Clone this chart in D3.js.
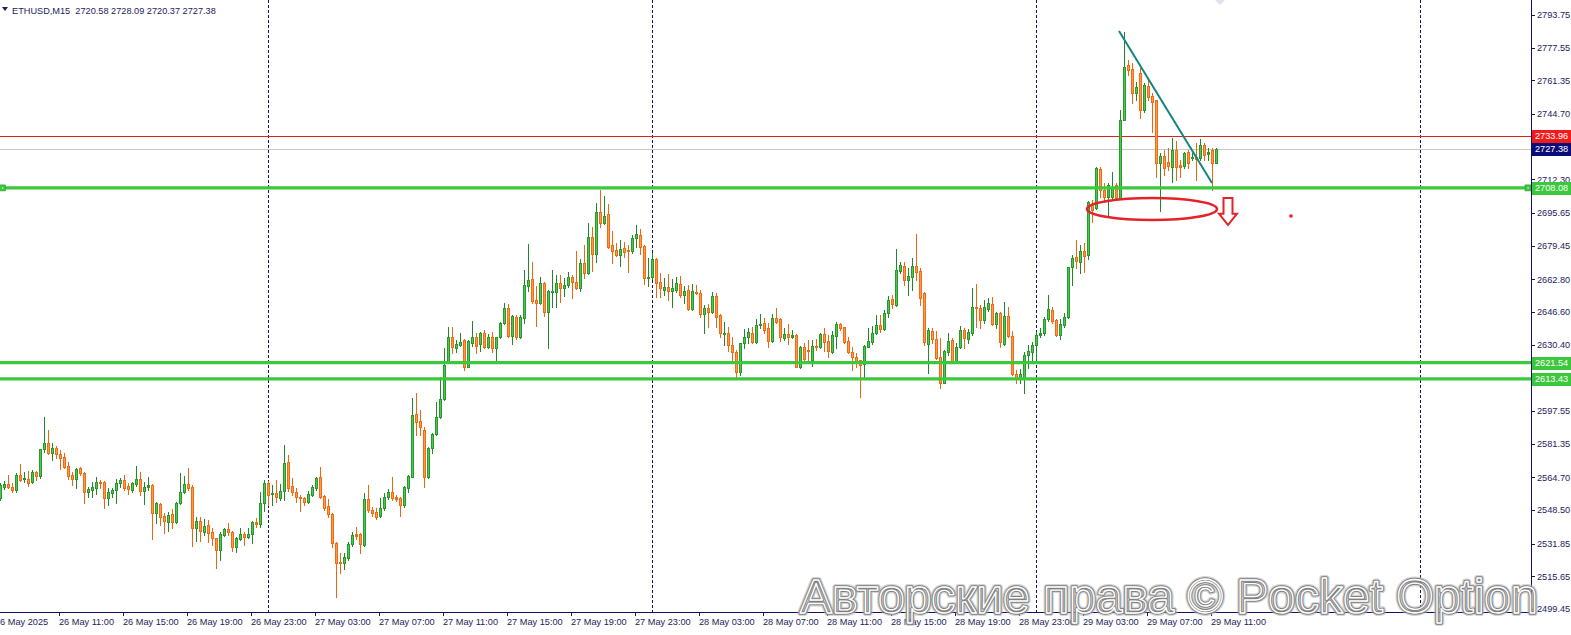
<!DOCTYPE html>
<html><head><meta charset="utf-8">
<script src="https://cdn.jsdelivr.net/npm/d3@7"></script>
<style>html,body{margin:0;padding:0;background:#fff;overflow:hidden}</style>
</head><body>
<svg id="c" width="1571" height="635" xmlns="http://www.w3.org/2000/svg"></svg>
<script>
const symbolTitle = "ETHUSD,M15";
const open = [
2554.4,2559.9,2561.4,2559.9,2558.4,2565.8,2563.9,2563.9,2562.4,2567.3,
2565.3,2578.7,2581.7,2576.7,2579.2,2576.2,2574.8,2570.3,2565.8,2563.9,
2569.3,2566.8,2557.4,2558.4,2559.4,2562.4,2562.4,2554.4,2556.9,2558.4,
2561.9,2563.4,2560.4,2558.4,2561.4,2563.9,2557.9,2559.9,2560.9,2547.0,
2551.5,2545.5,2542.6,2546.5,2542.6,2552.0,2557.4,2561.4,2559.9,2539.6,
2543.1,2537.6,2541.1,2537.6,2534.6,2528.7,2536.1,2539.1,2537.6,2530.2,
2534.1,2536.6,2535.1,2536.6,2542.6,2541.6,2552.0,2561.9,2556.4,2556.9,
2554.4,2557.9,2572.3,2560.4,2557.4,2554.9,2554.4,2552.5,2555.9,2559.4,
2564.9,2555.4,2550.5,2546.5,2532.2,2522.7,2522.2,2524.7,2531.7,2536.6,
2536.6,2531.2,2554.0,2548.5,2547.5,2545.5,2549.5,2554.9,2557.4,2554.9,
2554.4,2551.0,2559.4,2564.9,2596.1,2592.6,2588.1,2564.9,2579.2,2586.2,
2594.6,2603.5,2621.3,2634.2,2628.8,2630.3,2632.7,2619.4,2631.2,2634.2,
2630.8,2636.2,2629.3,2634.2,2628.8,2634.2,2641.2,2648.6,2634.7,2644.1,
2634.2,2643.6,2659.5,2663.0,2652.6,2651.1,2661.0,2646.6,2656.5,2656.5,
2661.0,2658.5,2660.0,2663.9,2661.5,2658.5,2670.9,2665.9,2683.8,2675.3,
2696.1,2690.7,2695.2,2679.8,2677.3,2674.8,2678.3,2677.3,2676.8,2683.3,
2684.8,2679.3,2663.4,2663.9,2672.9,2661.5,2657.5,2659.0,2657.0,2657.5,
2660.5,2655.0,2657.5,2648.1,2656.5,2656.0,2645.6,2648.6,2646.6,2654.5,
2645.1,2635.7,2636.2,2630.3,2626.8,2616.9,2631.2,2634.2,2636.2,2631.7,
2640.2,2641.2,2638.7,2632.2,2643.6,2643.1,2633.7,2635.7,2634.2,2635.2,
2619.4,2629.3,2627.8,2622.8,2629.8,2629.3,2635.7,2632.2,2626.8,2634.7,
2640.7,2639.2,2632.2,2626.8,2624.3,2622.8,2620.8,2629.3,2631.7,2636.2,
2640.2,2638.2,2646.1,2653.0,2650.1,2666.9,2669.4,2662.5,2663.9,2669.4,
2666.9,2656.0,2630.8,2637.2,2633.2,2624.3,2611.4,2626.8,2632.7,2621.8,
2629.3,2637.7,2633.2,2636.2,2649.1,2648.6,2642.6,2648.1,2650.6,2640.7,
2646.1,2630.8,2644.6,2634.7,2615.9,2613.4,2613.9,2625.3,2626.8,2630.3,
2635.2,2636.2,2643.1,2647.6,2642.6,2635.2,2640.2,2644.1,2668.9,2673.9,
2671.4,2676.8,2674.8,2699.6,2698.1,2717.5,2707.1,2703.6,2703.6,2709.5,
2703.1,2741.7,2769.0,2767.0,2755.1,2765.0,2746.7,2758.6,2753.6,2751.6,
2720.4,2723.9,2720.9,2718.4,2726.9,2719.4,2718.9,2725.9,2722.9,2723.4,
2722.9,2729.3,2724.9,2726.9,2720.58];
const high = [
2561.9,2562.9,2565.8,2561.9,2566.8,2571.3,2567.3,2567.8,2568.3,2567.8,
2578.7,2594.6,2588.1,2581.7,2580.2,2578.2,2576.7,2572.3,2567.3,2569.3,
2569.8,2567.3,2559.9,2562.4,2564.9,2563.4,2562.9,2559.4,2559.4,2563.9,
2564.4,2565.8,2561.9,2562.4,2570.3,2567.3,2562.4,2564.9,2561.4,2552.5,
2552.0,2547.0,2547.5,2549.0,2552.5,2566.8,2565.3,2569.3,2560.9,2545.0,
2545.0,2544.1,2543.6,2539.6,2534.6,2537.6,2539.6,2542.1,2538.1,2535.1,
2539.6,2537.6,2539.6,2543.1,2544.5,2557.4,2563.4,2562.9,2560.9,2563.4,
2561.4,2580.7,2575.8,2564.4,2559.4,2555.9,2554.9,2557.9,2560.9,2564.9,
2569.8,2555.9,2554.0,2547.0,2532.7,2527.2,2527.2,2532.7,2537.6,2540.1,
2537.1,2556.9,2560.9,2550.0,2549.5,2554.4,2556.9,2558.9,2564.9,2555.9,
2554.9,2560.4,2565.8,2604.0,2606.5,2598.1,2589.6,2579.7,2586.7,2602.0,
2614.4,2628.8,2639.2,2639.2,2632.7,2636.2,2633.2,2632.7,2642.1,2636.2,
2636.7,2637.7,2635.7,2636.7,2634.2,2641.7,2651.1,2650.6,2645.1,2645.1,
2645.1,2667.4,2680.3,2671.4,2659.5,2663.9,2661.5,2657.5,2667.4,2664.9,
2664.9,2663.4,2666.4,2664.9,2676.8,2672.9,2679.8,2690.7,2688.7,2700.6,
2707.1,2704.1,2700.1,2686.7,2680.8,2682.3,2681.3,2679.8,2684.8,2689.7,
2687.7,2679.8,2673.4,2675.8,2673.4,2665.9,2663.4,2665.4,2663.0,2663.9,
2664.4,2659.5,2660.0,2660.5,2660.0,2657.5,2650.1,2650.6,2656.5,2656.0,
2645.6,2641.7,2639.2,2634.2,2627.8,2631.2,2638.2,2638.7,2639.2,2643.1,
2645.6,2643.6,2641.2,2645.6,2648.6,2643.6,2638.7,2640.7,2637.7,2635.7,
2629.8,2631.2,2632.7,2632.7,2633.2,2636.2,2638.7,2635.2,2637.2,2641.7,
2641.2,2639.2,2634.2,2629.3,2626.3,2622.8,2630.3,2638.7,2639.7,2645.1,
2645.1,2647.6,2654.5,2655.0,2677.8,2671.4,2671.4,2668.4,2673.4,2685.2,
2668.4,2656.5,2638.7,2638.7,2637.2,2633.7,2627.8,2636.2,2633.7,2631.2,
2639.7,2638.7,2638.2,2658.5,2660.5,2650.1,2652.6,2653.5,2654.0,2646.6,
2646.6,2651.6,2649.1,2637.2,2617.9,2618.4,2626.8,2630.3,2631.7,2636.7,
2638.7,2644.1,2655.0,2649.1,2643.1,2643.1,2646.1,2668.9,2674.8,2682.3,
2679.8,2680.8,2701.6,2702.1,2718.4,2718.4,2710.5,2710.5,2716.0,2710.5,
2746.7,2785.3,2771.5,2770.0,2760.6,2767.5,2760.1,2762.5,2755.1,2751.6,
2725.4,2726.9,2727.9,2732.8,2731.3,2721.9,2725.9,2726.9,2725.4,2730.3,
2732.3,2730.3,2727.9,2727.9,2728.09];
const low = [
2553.5,2558.9,2559.4,2557.4,2557.4,2562.9,2562.4,2560.4,2561.9,2563.4,
2564.4,2577.2,2576.2,2573.3,2574.3,2568.8,2569.3,2563.9,2560.9,2559.4,
2565.8,2552.0,2554.9,2554.9,2556.4,2559.4,2549.5,2551.0,2554.9,2552.0,
2559.9,2558.4,2556.4,2557.4,2560.4,2555.9,2551.5,2558.4,2534.1,2542.1,
2541.1,2537.1,2538.1,2539.6,2542.1,2551.5,2556.9,2558.4,2530.7,2533.2,
2533.2,2536.1,2532.7,2531.2,2519.8,2523.7,2535.6,2536.1,2528.2,2527.7,
2533.6,2531.2,2534.6,2532.2,2540.1,2540.1,2548.0,2551.0,2551.0,2552.5,
2553.5,2553.5,2557.9,2555.9,2552.5,2548.0,2551.0,2552.0,2555.4,2558.4,
2554.4,2548.5,2545.0,2530.2,2505.4,2517.3,2519.3,2523.7,2530.7,2534.1,
2527.2,2530.7,2547.5,2545.5,2544.1,2545.0,2548.5,2554.0,2553.5,2553.0,
2545.5,2550.0,2557.4,2564.9,2585.7,2585.7,2559.9,2564.4,2576.7,2585.7,
2594.1,2603.0,2621.3,2626.3,2626.8,2629.8,2617.9,2619.4,2629.8,2626.3,
2627.3,2628.8,2628.8,2626.8,2622.3,2633.7,2640.7,2634.2,2630.8,2633.2,
2633.7,2641.2,2657.0,2651.1,2639.7,2650.6,2644.6,2628.8,2649.1,2649.1,
2651.6,2654.5,2659.0,2653.5,2658.0,2657.0,2663.4,2665.4,2666.9,2671.4,
2688.7,2690.2,2678.3,2670.9,2674.3,2669.4,2673.9,2666.4,2675.8,2678.8,
2675.3,2660.5,2659.5,2663.0,2654.0,2654.0,2655.0,2652.6,2649.1,2656.5,
2654.0,2651.1,2647.6,2647.6,2655.5,2644.1,2636.2,2639.2,2646.1,2639.2,
2634.2,2630.3,2627.3,2621.8,2614.4,2615.4,2628.8,2631.2,2631.2,2631.2,
2638.7,2636.2,2629.3,2631.7,2641.2,2632.2,2632.7,2630.8,2633.7,2619.4,
2618.9,2621.3,2621.8,2619.9,2627.8,2628.8,2627.3,2624.3,2626.3,2628.8,
2637.7,2631.2,2626.3,2617.9,2619.4,2604.5,2614.4,2629.3,2630.8,2635.7,
2636.7,2637.7,2644.1,2648.6,2649.6,2665.9,2660.0,2655.0,2657.5,2662.5,
2650.1,2630.3,2616.4,2631.2,2623.3,2609.0,2611.4,2625.3,2621.3,2621.3,
2628.8,2628.8,2631.2,2635.2,2639.2,2638.7,2641.2,2647.1,2640.2,2638.7,
2629.3,2630.3,2634.2,2615.4,2611.4,2611.4,2606.5,2618.9,2621.3,2621.3,
2634.2,2635.2,2642.1,2641.2,2634.7,2633.2,2639.2,2643.6,2660.0,2668.4,
2665.9,2666.4,2672.9,2691.2,2697.6,2703.6,2701.1,2694.7,2703.1,2702.6,
2703.1,2741.7,2764.0,2750.2,2751.6,2742.7,2745.7,2751.6,2735.8,2713.5,
2696.6,2714.5,2717.0,2711.0,2712.0,2713.5,2718.0,2718.0,2721.9,2712.0,
2721.9,2721.9,2721.9,2707.1,2720.37];
const close = [
2560.9,2561.4,2559.9,2558.4,2565.8,2563.4,2564.4,2561.9,2567.3,2565.3,
2578.7,2581.7,2576.7,2579.2,2576.2,2574.3,2569.8,2565.3,2563.9,2568.8,
2566.8,2557.4,2558.9,2559.9,2562.4,2561.9,2554.4,2557.4,2558.4,2561.9,
2563.4,2559.4,2558.9,2561.9,2563.9,2557.9,2559.9,2560.9,2547.0,2552.0,
2545.0,2543.1,2546.0,2542.6,2552.0,2557.4,2561.4,2559.4,2539.6,2543.1,
2538.1,2540.6,2537.1,2534.6,2528.7,2536.6,2539.1,2537.6,2530.2,2534.6,
2536.6,2535.1,2536.6,2542.6,2541.6,2552.0,2561.9,2555.9,2556.9,2554.9,
2557.9,2571.8,2559.4,2557.4,2554.9,2554.4,2552.5,2556.4,2559.9,2564.4,
2554.9,2549.5,2546.5,2532.2,2522.2,2522.2,2525.2,2531.7,2536.1,2535.6,
2531.7,2554.0,2548.5,2547.0,2545.0,2549.5,2554.9,2557.4,2554.4,2554.0,
2551.0,2559.9,2565.3,2595.6,2592.1,2589.6,2564.9,2579.2,2586.2,2594.6,
2603.5,2620.4,2634.2,2629.3,2630.8,2631.7,2619.4,2632.2,2634.2,2629.8,
2636.2,2629.3,2634.2,2628.8,2634.2,2641.2,2648.6,2634.7,2644.6,2634.2,
2644.1,2660.0,2662.5,2652.1,2651.1,2661.0,2646.6,2657.0,2656.8,2661.0,
2658.5,2660.0,2663.9,2661.5,2658.5,2670.9,2665.9,2683.8,2675.3,2696.1,
2690.7,2694.2,2678.8,2676.8,2674.8,2677.8,2676.3,2676.8,2683.3,2685.2,
2678.8,2663.4,2663.9,2672.9,2661.0,2658.5,2659.0,2657.0,2658.5,2661.0,
2655.0,2657.0,2648.1,2657.0,2656.0,2645.6,2648.6,2646.6,2654.5,2644.1,
2636.2,2636.2,2630.3,2626.8,2616.9,2631.2,2634.2,2636.7,2631.7,2640.2,
2640.7,2637.7,2632.2,2643.6,2641.7,2634.2,2635.7,2634.2,2635.2,2619.4,
2629.3,2623.3,2627.3,2629.8,2629.3,2635.7,2631.7,2627.3,2635.2,2640.7,
2638.7,2631.7,2626.8,2624.3,2621.8,2620.4,2629.8,2632.2,2636.2,2640.2,
2638.2,2646.1,2652.6,2650.6,2667.4,2669.9,2662.5,2664.4,2669.4,2666.4,
2653.5,2631.7,2637.7,2633.2,2623.8,2611.4,2627.3,2632.2,2621.8,2629.3,
2637.7,2633.7,2636.7,2649.1,2648.6,2642.6,2649.1,2651.1,2640.7,2646.1,
2631.7,2644.6,2634.7,2615.9,2613.9,2615.9,2625.3,2627.3,2630.3,2635.2,
2636.2,2643.1,2648.1,2642.1,2635.2,2640.7,2644.1,2668.9,2673.4,2671.9,
2676.8,2674.3,2701.1,2697.1,2718.0,2707.1,2703.6,2709.5,2708.5,2703.1,
2741.7,2768.0,2766.5,2755.1,2758.1,2746.7,2759.1,2753.1,2750.7,2720.4,
2723.9,2718.0,2718.9,2726.9,2718.4,2718.4,2725.4,2720.4,2723.4,2722.4,
2729.3,2724.4,2725.9,2720.4,2727.38];

const priceTicks = [2793.75,2777.55,2761.35,2744.70,2728.50,2712.30,2695.65,2679.45,2662.80,2646.60,2630.40,2614.20,2597.55,2581.35,2564.70,2548.50,2531.85,2515.65,2499.45];
const timeTickBars = [-1,15,31,47,63,79,95,111,127,143,159,175,191,207,223,239,255,271,287,303];
const timeTickLabels = ["26 May 2025","26 May 11:00","26 May 15:00","26 May 19:00","26 May 23:00","27 May 03:00","27 May 07:00","27 May 11:00","27 May 15:00","27 May 19:00","27 May 23:00","28 May 03:00","28 May 07:00","28 May 11:00","28 May 15:00","28 May 19:00","28 May 23:00","29 May 03:00","29 May 07:00","29 May 11:00"];
const separatorBars = [67,163,259,355];
const supportLevels = [2708.08,2621.54,2613.43];
const resistanceLevel = 2733.96;
const bidPrice = 2727.38;
const trendBars = [279.75,303];
const trendPrices = [2785.8,2710.5];
const ellipseBars = [271.75,304.25];
const ellipsePrices = [2703.1,2692.2];
const arrowBar = 307;
const arrowPrices = [2703.1,2689.7];
const dotBar = 322.75;
const dotPrice = 2694.2;
const shiftBar = 305;
const watermarkText = "Авторские права © Pocket Option";

const W=1571,H=635,plotR=1531,plotB=612;
const FONT="'Liberation Sans', Arial, sans-serif";
const AX="#1c1c5c";
const svg=d3.select("#c");
const x=d3.scaleLinear().domain([0,382.75]).range([0,plotR]);
const y=d3.scaleLinear().domain([2499.45,2793.75]).range([609,15]);
const bars=d3.range(open.length).map(i=>({i,o:open[i],c:close[i],
  h:Math.max(high[i],open[i],close[i]),l:Math.min(low[i],open[i],close[i])}));

svg.append("rect").attr("width",W).attr("height",H).attr("fill","#fff");
svg.append("defs").append("clipPath").attr("id","pc").append("rect")
  .attr("x",0).attr("y",0).attr("width",plotR).attr("height",plotB);
const g=svg.append("g").attr("clip-path","url(#pc)");

// period separators
g.selectAll("line.sep").data(separatorBars).enter().append("line")
  .attr("x1",d=>Math.round(x(d))+0.5).attr("x2",d=>Math.round(x(d))+0.5)
  .attr("y1",0).attr("y2",plotB).attr("stroke","#14145e").attr("stroke-width",1)
  .attr("stroke-dasharray","3,2");

// bid and resistance lines
g.append("line").attr("x1",0).attr("x2",plotR).attr("y1",Math.round(y(bidPrice))+0.5).attr("y2",Math.round(y(bidPrice))+0.5)
  .attr("stroke","#c8c8c8").attr("stroke-width",1);
g.append("line").attr("x1",0).attr("x2",plotR).attr("y1",Math.round(y(resistanceLevel))+0.5).attr("y2",Math.round(y(resistanceLevel))+0.5)
  .attr("stroke","#e0201c").attr("stroke-width",1);

// candles
const cg=g.append("g");
const up=d=>d.c>=d.o;
const cs=cg.selectAll("g.c").data(bars).enter().append("g");
cs.append("line")
  .attr("x1",d=>Math.round(x(d.i))+0.5).attr("x2",d=>Math.round(x(d.i))+0.5)
  .attr("y1",d=>Math.round(y(d.h))).attr("y2",d=>Math.round(y(d.l))+1)
  .attr("stroke",d=>up(d)?"#23862a":"#f0640f").attr("stroke-width",1);
cs.append("rect")
  .attr("x",d=>Math.round(x(d.i))-1)
  .attr("y",d=>Math.round(y(Math.max(d.o,d.c))))
  .attr("width",3)
  .attr("height",d=>Math.max(1,Math.round(y(Math.min(d.o,d.c)))-Math.round(y(Math.max(d.o,d.c)))+1))
  .attr("fill",d=>up(d)?"#279a2d":"#f26a12");
cs.filter(d=>Math.round(y(Math.min(d.o,d.c)))-Math.round(y(Math.max(d.o,d.c)))>2).append("rect")
  .attr("x",d=>Math.round(x(d.i)))
  .attr("y",d=>Math.round(y(Math.max(d.o,d.c)))+1)
  .attr("width",1)
  .attr("height",d=>Math.round(y(Math.min(d.o,d.c)))-Math.round(y(Math.max(d.o,d.c)))-1)
  .attr("fill",d=>up(d)?"#52c456":"#ff9a4d");

// support levels
g.selectAll("line.lev").data(supportLevels).enter().append("line")
  .attr("x1",0).attr("x2",plotR).attr("y1",d=>y(d)).attr("y2",d=>y(d))
  .attr("stroke","#3cc83c").attr("stroke-width",3.2);
// selection handles on first level
[x(0)-0.5, plotR-6].forEach(hx=>{
  g.append("rect").attr("x",hx).attr("y",y(supportLevels[0])-3).attr("width",6).attr("height",6)
    .attr("fill","#3cc83c").attr("stroke","#2aa02a").attr("stroke-width",0.6);
  g.append("rect").attr("x",hx+2.5).attr("y",y(supportLevels[0])-0.5).attr("width",1.2).attr("height",1.2).attr("fill","#fff");
});

// trendline
g.append("line").attr("x1",x(trendBars[0])).attr("y1",y(trendPrices[0]))
  .attr("x2",x(trendBars[1])).attr("y2",y(trendPrices[1]))
  .attr("stroke","#12857e").attr("stroke-width",2);

// ellipse
g.append("ellipse")
  .attr("cx",(x(ellipseBars[0])+x(ellipseBars[1]))/2)
  .attr("cy",(y(ellipsePrices[0])+y(ellipsePrices[1]))/2)
  .attr("rx",(x(ellipseBars[1])-x(ellipseBars[0]))/2)
  .attr("ry",(y(ellipsePrices[1])-y(ellipsePrices[0]))/2)
  .attr("fill","none").attr("stroke","#e3222a").attr("stroke-width",2.6);

// arrow down (hollow)
(function(){
  const ax=x(arrowBar), t=y(arrowPrices[0]), b=y(arrowPrices[1]);
  const hh=(b-t)*0.42, sw=4.5, hw=9;
  const p=`M${ax-sw},${t} L${ax+sw},${t} L${ax+sw},${b-hh} L${ax+hw},${b-hh} L${ax},${b} L${ax-hw},${b-hh} L${ax-sw},${b-hh} Z`;
  g.append("path").attr("d",p).attr("fill","#fff").attr("stroke","#e3222a").attr("stroke-width",2).attr("stroke-linejoin","miter");
})();
// dot
g.append("circle").attr("cx",x(dotBar)).attr("cy",y(dotPrice)).attr("r",1.8).attr("fill","#e3222a");

// shift marker
svg.append("path").attr("d",`M${x(shiftBar)-5},0 L${x(shiftBar)+5},0 L${x(shiftBar)},5 Z`).attr("fill","#e2e2ea");

// axes lines
svg.append("line").attr("x1",plotR+0.5).attr("x2",plotR+0.5).attr("y1",0).attr("y2",plotB+1).attr("stroke","#10106a");
svg.append("line").attr("x1",0).attr("x2",plotR+1).attr("y1",plotB+0.5).attr("y2",plotB+0.5).attr("stroke","#10106a");

// price ticks
const pt=svg.append("g");
pt.selectAll("line").data(priceTicks).enter().append("line")
  .attr("x1",plotR+1).attr("x2",plotR+4).attr("y1",d=>Math.round(y(d))+0.5).attr("y2",d=>Math.round(y(d))+0.5)
  .attr("stroke",AX);
pt.selectAll("text").data(priceTicks).enter().append("text")
  .attr("x",1537).attr("y",d=>y(d)+3.3).text(d=>d.toFixed(2))
  .attr("font-family",FONT).attr("font-size","9.2px").attr("fill",AX);

// time ticks
const tt=svg.append("g");
tt.selectAll("line").data(timeTickBars).enter().append("line")
  .attr("x1",d=>Math.round(x(d))-0.5).attr("x2",d=>Math.round(x(d))-0.5)
  .attr("y1",plotB+1).attr("y2",plotB+4).attr("stroke",AX);
tt.selectAll("text").data(timeTickBars).enter().append("text")
  .attr("x",d=>x(d)-1).attr("y",625).text((d,i)=>timeTickLabels[i])
  .attr("font-family",FONT).attr("font-size","9.2px").attr("fill",AX);

// price tags
const tags=[
  {p:resistanceLevel,bg:"#f01c1c"},
  {p:bidPrice,bg:"#0c0c78"},
  {p:supportLevels[0],bg:"#3cc83c"},
  {p:supportLevels[1],bg:"#3cc83c"},
  {p:supportLevels[2],bg:"#3cc83c"}];
const tg=svg.append("g");
tags.forEach(t=>{
  tg.append("rect").attr("x",plotR+1).attr("y",Math.round(y(t.p))-6).attr("width",W-plotR-1).attr("height",13).attr("fill",t.bg);
  tg.append("text").attr("x",1535).attr("y",y(t.p)+3.5).text(t.p.toFixed(2))
    .attr("font-family",FONT).attr("font-size","9.2px").attr("fill","#fff");
});

// header
svg.append("path").attr("d","M2,7 L8,7 L5,11 Z").attr("fill",AX);
svg.append("text").attr("x",12).attr("y",13.5).attr("xml:space","preserve").style("white-space","pre")
  .text(symbolTitle+"  "+[open[open.length-1],high[high.length-1],low[low.length-1],close[close.length-1]].map(v=>v.toFixed(2)).join(" "))
  .attr("font-family",FONT).attr("font-size","9.2px").attr("fill",AX);

// watermark
const wm=svg.append("g").attr("font-family",FONT).attr("font-size","48px");
wm.append("text").attr("x",800).attr("y",613).text(watermarkText)
  .attr("fill","none").attr("stroke","#b0b0b0").attr("stroke-width",6).attr("stroke-opacity",0.55).attr("stroke-linejoin","round");
wm.append("text").attr("x",800).attr("y",613).text(watermarkText)
  .attr("fill","none").attr("stroke","#808080").attr("stroke-width",3.4).attr("stroke-linejoin","round");
wm.append("text").attr("x",800).attr("y",613).text(watermarkText)
  .attr("fill","none").attr("stroke","#ffffff").attr("stroke-width",1.4).attr("stroke-linejoin","round");
</script>
</body></html>
